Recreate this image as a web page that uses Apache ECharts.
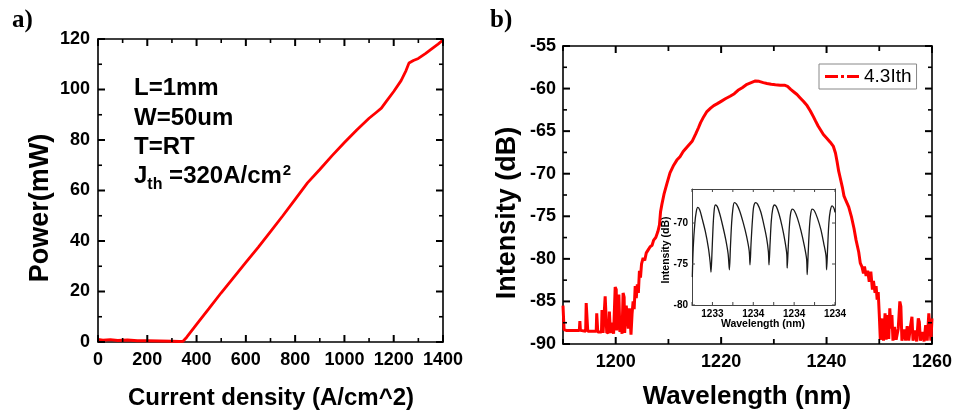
<!DOCTYPE html>
<html>
<head>
<meta charset="utf-8">
<script src="https://cdn.jsdelivr.net/npm/echarts@6/dist/echarts.min.js"></script>
<style>html,body{margin:0;padding:0;background:#fff}#c{width:955px;height:416px;background:#fff}</style>
</head>
<body>
<div id="c"></div>
<script>
// ---- Panel a) L-J curve ----
const ljCurrent = [0, 20, 50, 80, 120, 160, 200, 250, 300, 330, 345, 360, 400, 450, 500, 550, 600, 650, 700, 750, 800, 850, 900, 950, 1000, 1050, 1100, 1130, 1150, 1170, 1200, 1230, 1250, 1262, 1280, 1300, 1330, 1350, 1380, 1400];
const ljPower   = [1.0, 0.7, 0.9, 0.6, 0.8, 0.5, 0.5, 0.4, 0.3, 0.2, 0.3, 1.9, 7.0, 13.2, 19.5, 25.5, 31.5, 37.5, 43.7, 50.0, 56.5, 63.0, 68.3, 73.8, 79.0, 84.0, 88.6, 91.0, 92.6, 95.3, 99.2, 103.5, 107.5, 110.5, 111.5, 112.3, 114.3, 115.8, 118.0, 119.6];

// ---- Panel b) spectrum ----
const specWl = [1190.0,1190.2,1190.6,1191.5,1192.5,1193.1,1193.2,1193.3,1194.3,1194.4,1194.6,1194.7,1195.5,1196.3,1196.4,1196.6,1197.3,1197.4,1197.6,1197.9,1198.0,1198.2,1198.3,1198.7,1198.8,1199.0,1199.3,1199.6,1199.9,1200.1,1200.2,1200.4,1200.6,1200.8,1201.0,1201.2,1201.4,1201.6,1201.7,1202.0,1202.2,1202.4,1202.6,1202.9,1203.1,1203.3,1203.5,1203.7,1203.9,1204.1,1204.3,1204.5,1204.7,1204.9,1205.2,1205.5,1205.8,1206.1,1206.5,1206.9,1207.2,1207.6,1208.0,1208.3,1208.5,1208.76,1209.2,1209.7,1210.3,1211.0,1211.6,1212.2,1212.8,1213.5,1214.5,1215.2,1215.7,1216.1,1216.7,1217.3,1218.0,1218.6,1219.2,1220.0,1220.8,1221.7,1222.5,1223.2,1224.0,1224.9,1225.7,1226.5,1227.2,1228.0,1228.7,1229.5,1230.3,1231.2,1232.0,1232.6,1233.2,1233.8,1234.4,1235.0,1235.6,1236.3,1236.9,1237.5,1237.9,1238.4,1238.9,1239.4,1240.0,1240.7,1241.3,1241.7,1242.0,1242.3,1242.6,1243.0,1243.3,1243.7,1244.2,1244.7,1245.2,1245.6,1246.1,1246.4,1246.7,1247.0,1247.2,1247.5,1247.8,1248.1,1248.4,1248.7,1248.9,1249.2,1249.4,1249.6,1249.8,1250.0,1250.2,1250.4,1250.6,1250.8,1251.1,1251.3,1251.6,1251.8,1252.0,1252.2,1252.4,1252.6,1252.9,1253.2,1253.6,1253.9,1254.1,1254.3,1254.7,1255.0,1255.3,1255.6,1255.9,1256.2,1256.4,1256.8,1257.1,1257.4,1257.6,1257.8,1258.2,1258.5,1258.8,1259.1,1259.4,1259.6,1259.8,1260.0];
const specDb = [-85.5,-88.3,-88.4,-88.4,-88.4,-88.4,-87.3,-88.4,-88.5,-85.2,-85.4,-88.5,-88.5,-88.5,-86.4,-88.6,-88.6,-86.0,-88.7,-88.7,-84.4,-84.6,-88.7,-88.6,-86.2,-88.7,-87.5,-88.8,-83.3,-83.6,-88.4,-86.5,-84.2,-88.6,-87.0,-88.8,-84.0,-84.5,-88.7,-85.5,-86.8,-88.2,-85.8,-88.9,-86.5,-85.0,-85.9,-83.2,-84.6,-83.0,-84.0,-81.4,-82.2,-80.6,-79.9,-80.2,-79.3,-79.0,-78.6,-78.4,-77.8,-77.5,-76.8,-76.0,-74.5,-73.6,-72.3,-71.2,-69.9,-69.0,-68.4,-68.0,-67.4,-66.9,-66.2,-65.3,-64.6,-64.0,-63.3,-62.7,-62.3,-62.0,-61.8,-61.5,-61.2,-60.9,-60.6,-60.2,-59.9,-59.5,-59.3,-59.1,-59.15,-59.3,-59.4,-59.5,-59.55,-59.6,-59.6,-59.75,-60.1,-60.4,-60.7,-61.1,-61.5,-62.0,-62.6,-63.3,-63.8,-64.4,-64.9,-65.4,-65.8,-66.3,-66.8,-67.6,-68.6,-69.7,-70.5,-71.6,-72.6,-73.2,-73.9,-75.0,-76.4,-77.8,-79.2,-80.5,-80.9,-81.7,-80.9,-82.0,-81.4,-82.7,-81.5,-83.6,-82.6,-84.0,-83.2,-84.8,-83.9,-86.5,-89.5,-89.6,-87.0,-89.6,-86.4,-89.5,-86.6,-89.4,-85.8,-88.2,-86.6,-89.6,-88.0,-89.5,-88.2,-85.0,-85.6,-89.6,-88.3,-89.6,-87.9,-89.6,-88.0,-86.8,-89.6,-88.4,-89.7,-87.0,-87.4,-89.6,-88.6,-89.7,-87.8,-89.6,-86.4,-86.6,-89.6,-87.0];

// ---- Inset ----
const insetWl = [1233.3015,1233.306,1233.314,1233.321,1233.328,1233.338,1233.350,1233.365,1233.380,1233.389,1233.393,
  1233.398,1233.403,1233.408,1233.414,1233.424,1233.436,1233.450,1233.465,1233.477,1233.483,
  1233.488,1233.494,1233.500,1233.507,1233.518,1233.533,1233.550,1233.567,1233.580,1233.584,
  1233.589,1233.596,1233.602,1233.611,1233.621,1233.636,1233.650,1233.665,1233.674,1233.677,
  1233.682,1233.688,1233.695,1233.703,1233.713,1233.726,1233.741,1233.755,1233.764,1233.766,
  1233.771,1233.777,1233.783,1233.791,1233.801,1233.816,1233.833,1233.850,1233.861,1233.864,
  1233.869,1233.875,1233.881,1233.888,1233.899,1233.914,1233.931,1233.945,1233.956,1233.959,
  1233.964,1233.970,1233.977,1233.986,1233.995,1234.000];
const insetDb = [-76.6,-73.0,-70.0,-68.6,-68.1,-68.4,-69.5,-71.0,-73.0,-74.8,-76.0,
  -73.5,-70.5,-68.6,-67.8,-68.0,-68.9,-70.3,-72.0,-73.8,-75.7,
  -73.0,-70.0,-68.3,-67.5,-67.7,-68.5,-69.9,-71.6,-73.4,-75.1,
  -72.5,-69.6,-68.0,-67.5,-67.7,-68.6,-70.0,-71.8,-73.5,-75.1,
  -72.6,-69.8,-68.3,-67.8,-68.0,-68.9,-70.4,-72.2,-73.8,-75.5,
  -73.0,-70.3,-68.8,-68.3,-68.5,-69.4,-70.9,-72.8,-74.4,-76.3,
  -73.5,-70.5,-68.9,-68.3,-68.5,-69.4,-70.8,-72.5,-74.0,-75.7,
  -73.0,-70.0,-68.5,-67.9,-68.2,-68.7];

// ---- Tick positions (axis values) ----
const ljXMajor = [0, 200, 400, 600, 800, 1000, 1200, 1400];
const ljXMinor = [100, 300, 500, 700, 900, 1100, 1300];
const ljYMajor = [0, 20, 40, 60, 80, 100, 120];
const ljYMinor = [10, 30, 50, 70, 90, 110];
const specXMajor = [1200, 1220, 1240, 1260];
const specXMinor = [1190, 1210, 1230, 1250];
const specYMajor = [-90, -85, -80, -75, -70, -65, -60, -55];
const specYMinor = [-87.5, -82.5, -77.5, -72.5, -67.5, -62.5, -57.5];
const insetXTicks = [1233.3, 1233.4, 1233.5, 1233.6, 1233.7, 1233.8, 1233.9, 1234.0];
const insetYTicks = [-80, -75, -70];

const FONT = '"Liberation Sans", Arial, sans-serif';
const pair = (xs, ys) => xs.map((x, i) => [x, ys[i]]);

function frameAxis(opts) {
  return Object.assign({
    type: 'value',
    axisLine: { show: true, onZero: false, lineStyle: { color: '#000', width: 1.6 } },
    axisTick: { show: false },
    minorTick: { show: false },
    splitLine: { show: false },
    axisLabel: { show: false }
  }, opts);
}
const mainLabel = (margin, fmt) => ({ show: true, color: '#000', fontFamily: FONT, fontWeight: 'bold', fontSize: 18, margin: margin, formatter: fmt || (v => String(v)) });

const insetAxis = (opts) => Object.assign({
  type: 'value',
  axisLine: { show: true, onZero: false, lineStyle: { color: '#444', width: 1 } },
  axisTick: { show: false },
  splitLine: { show: false },
  axisLabel: { show: false }
}, opts);
const insetLabel = (fmt) => ({ show: true, color: '#000', fontFamily: FONT, fontWeight: 'bold', fontSize: 10, margin: 4, formatter: fmt });
const titleStyle = (size) => ({ fontFamily: FONT, fontWeight: 'bold', fontSize: size, fill: '#000', align: 'center', verticalAlign: 'middle' });

// Inward tick marks on both opposite sides of a grid, placed through the axis scale (api.coord)
function tickSeries(axisIdx, dir, values, ref, len, width, color) {
  return {
    type: 'custom', coordinateSystem: 'cartesian2d', xAxisIndex: axisIdx, yAxisIndex: axisIdx,
    silent: true, clip: false, z: 4,
    data: values.map(v => (dir === 'x' ? [v, ref] : [ref, v])),
    renderItem: function (params, api) {
      const p = api.coord([api.value(0), api.value(1)]);
      const cs = params.coordSys;
      const st = { stroke: color, lineWidth: width };
      if (dir === 'x') {
        const x = p[0];
        return { type: 'group', children: [
          { type: 'line', shape: { x1: x, y1: cs.y + cs.height, x2: x, y2: cs.y + cs.height - len }, style: st },
          { type: 'line', shape: { x1: x, y1: cs.y, x2: x, y2: cs.y + len }, style: st }
        ] };
      }
      const y = p[1];
      return { type: 'group', children: [
        { type: 'line', shape: { x1: cs.x, y1: y, x2: cs.x + len, y2: y }, style: st },
        { type: 'line', shape: { x1: cs.x + cs.width, y1: y, x2: cs.x + cs.width - len, y2: y }, style: st }
      ] };
    }
  };
}

const chart = echarts.init(document.getElementById('c'));

chart.setOption({
  animation: false,
  grid: [
    { left: 98, top: 39, width: 345, height: 303, show: false },
    { left: 563, top: 46, width: 369, height: 298, show: false },
    { left: 692, top: 189, width: 143, height: 116, show: false }
  ],
  xAxis: [
    frameAxis({ gridIndex: 0, position: 'bottom', min: 0, max: 1400, interval: 200, axisLabel: mainLabel(9) }),
    frameAxis({ gridIndex: 0, position: 'top', min: 0, max: 1400, interval: 200 }),
    frameAxis({ gridIndex: 1, position: 'bottom', min: 1190, max: 1260, interval: 10,
      axisLabel: mainLabel(9, v => (Math.round(v) % 20 === 0 ? String(Math.round(v)) : '')) }),
    frameAxis({ gridIndex: 1, position: 'top', min: 1190, max: 1260, interval: 10 }),
    insetAxis({ gridIndex: 2, position: 'bottom', min: 1233.3, max: 1234.0, interval: 0.1,
      axisLabel: insetLabel(v => (Math.round(v * 10) % 2 === 0 ? String(Math.round(v)) : '')) }),
    insetAxis({ gridIndex: 2, position: 'top', min: 1233.3, max: 1234.0, interval: 0.1 })
  ],
  yAxis: [
    frameAxis({ gridIndex: 0, position: 'left', min: 0, max: 120, interval: 20, axisLabel: mainLabel(8) }),
    frameAxis({ gridIndex: 0, position: 'right', min: 0, max: 120, interval: 20 }),
    frameAxis({ gridIndex: 1, position: 'left', min: -90, max: -55, interval: 5, axisLabel: mainLabel(7) }),
    frameAxis({ gridIndex: 1, position: 'right', min: -90, max: -55, interval: 5 }),
    insetAxis({ gridIndex: 2, position: 'left', min: -80, max: -65.85, interval: 5,
      axisLabel: insetLabel(v => (Math.abs(v % 5) < 1e-6 ? String(v) : '')) }),
    insetAxis({ gridIndex: 2, position: 'right', min: -80, max: -65.85, interval: 5 })
  ],
  legend: {
    data: ['4.3Ith'],
    left: 819, top: 64,
    orient: 'horizontal',
    backgroundColor: '#fff',
    borderColor: '#888', borderWidth: 1, borderRadius: 0,
    padding: [2, 5, 2, 6],
    itemWidth: 34, itemHeight: 3,
    icon: 'path://M0,0H13V3H0Z M16,0H19V3H16Z M22,0H34V3H22Z',
    textStyle: { fontFamily: FONT, fontSize: 19, color: '#000', lineHeight: 21 }
  },
  series: [
    { name: 'LJ', type: 'line', xAxisIndex: 0, yAxisIndex: 0, data: pair(ljCurrent, ljPower),
      showSymbol: false, symbol: 'none', lineStyle: { color: '#ff0000', width: 2.8 }, itemStyle: { color: '#ff0000' } },
    { name: '4.3Ith', type: 'line', xAxisIndex: 2, yAxisIndex: 2, data: pair(specWl, specDb),
      showSymbol: false, symbol: 'none', lineStyle: { color: '#ff0000', width: 3 }, itemStyle: { color: '#ff0000' } },
    { name: 'inset', type: 'line', xAxisIndex: 4, yAxisIndex: 4, data: pair(insetWl, insetDb),
      showSymbol: false, symbol: 'none', smooth: 0.3, lineStyle: { color: '#1a1a1a', width: 1.3 }, itemStyle: { color: '#1a1a1a' } },
    tickSeries(0, 'x', ljXMajor, 0, 7, 2, '#000'),
    tickSeries(0, 'x', ljXMinor, 0, 4, 1.6, '#000'),
    tickSeries(0, 'y', ljYMajor, 0, 7, 2, '#000'),
    tickSeries(0, 'y', ljYMinor, 0, 4, 1.6, '#000'),
    tickSeries(2, 'x', specXMajor, -90, 7, 2, '#000'),
    tickSeries(2, 'x', specXMinor, -90, 5, 1.8, '#000'),
    tickSeries(2, 'y', specYMajor, 1190, 7, 2, '#000'),
    tickSeries(2, 'y', specYMinor, 1190, 4, 1.6, '#000'),
    tickSeries(4, 'x', insetXTicks, -80, 3, 1, '#444'),
    tickSeries(4, 'y', insetYTicks, 1233.3, 3, 1, '#444')
  ],
  graphic: [
    { type: 'text', left: 12, top: 8, style: { text: 'a)', fontFamily: '"Liberation Serif", "Times New Roman", serif', fontWeight: 'bold', fontSize: 25, fill: '#000' } },
    { type: 'text', left: 490, top: 8, style: { text: 'b)', fontFamily: '"Liberation Serif", "Times New Roman", serif', fontWeight: 'bold', fontSize: 25, fill: '#000' } },
    { type: 'text', x: 271, y: 398, style: Object.assign({ text: 'Current density (A/cm^2)' }, titleStyle(24)) },
    { type: 'text', x: 747, y: 397, style: Object.assign({ text: 'Wavelength (nm)' }, titleStyle(26)) },
    { type: 'text', x: 763, y: 324, style: Object.assign({ text: 'Wavelength (nm)' }, titleStyle(10.5)) },
    { type: 'text', x: 41, y: 208, rotation: Math.PI / 2, style: Object.assign({ text: 'Power(mW)' }, titleStyle(27)) },
    { type: 'text', x: 508, y: 213, rotation: Math.PI / 2, style: Object.assign({ text: 'Intensity (dB)' }, titleStyle(27)) },
    { type: 'text', x: 666, y: 250, rotation: Math.PI / 2, style: Object.assign({ text: 'Intensity (dB)' }, titleStyle(10.5)) },
    { type: 'text', x: 134, y: 88, style: { text: 'L=1mm', fontFamily: FONT, fontWeight: 'bold', fontSize: 24, fill: '#000', verticalAlign: 'middle' } },
    { type: 'text', x: 134, y: 118, style: { text: 'W=50um', fontFamily: FONT, fontWeight: 'bold', fontSize: 24, fill: '#000', verticalAlign: 'middle' } },
    { type: 'text', x: 134, y: 147, style: { text: 'T=RT', fontFamily: FONT, fontWeight: 'bold', fontSize: 24, fill: '#000', verticalAlign: 'middle' } },
    { type: 'text', x: 134, y: 176, style: {
        text: '{j|J}{sub|th}{n| =320A/cm}{sup|2}', verticalAlign: 'middle',
        rich: {
          j:   { fontFamily: FONT, fontWeight: 'bold', fontSize: 24, fill: '#000', lineHeight: 34, verticalAlign: 'middle' },
          sub: { fontFamily: FONT, fontWeight: 'bold', fontSize: 16, fill: '#000', lineHeight: 34, verticalAlign: 'bottom' },
          n:   { fontFamily: FONT, fontWeight: 'bold', fontSize: 24, fill: '#000', lineHeight: 34, verticalAlign: 'middle' },
          sup: { fontFamily: FONT, fontWeight: 'bold', fontSize: 15, fill: '#000', lineHeight: 34, verticalAlign: 'top', padding: [4, 0, 0, 1] }
        } } }
  ]
});
</script>
</body>
</html>
